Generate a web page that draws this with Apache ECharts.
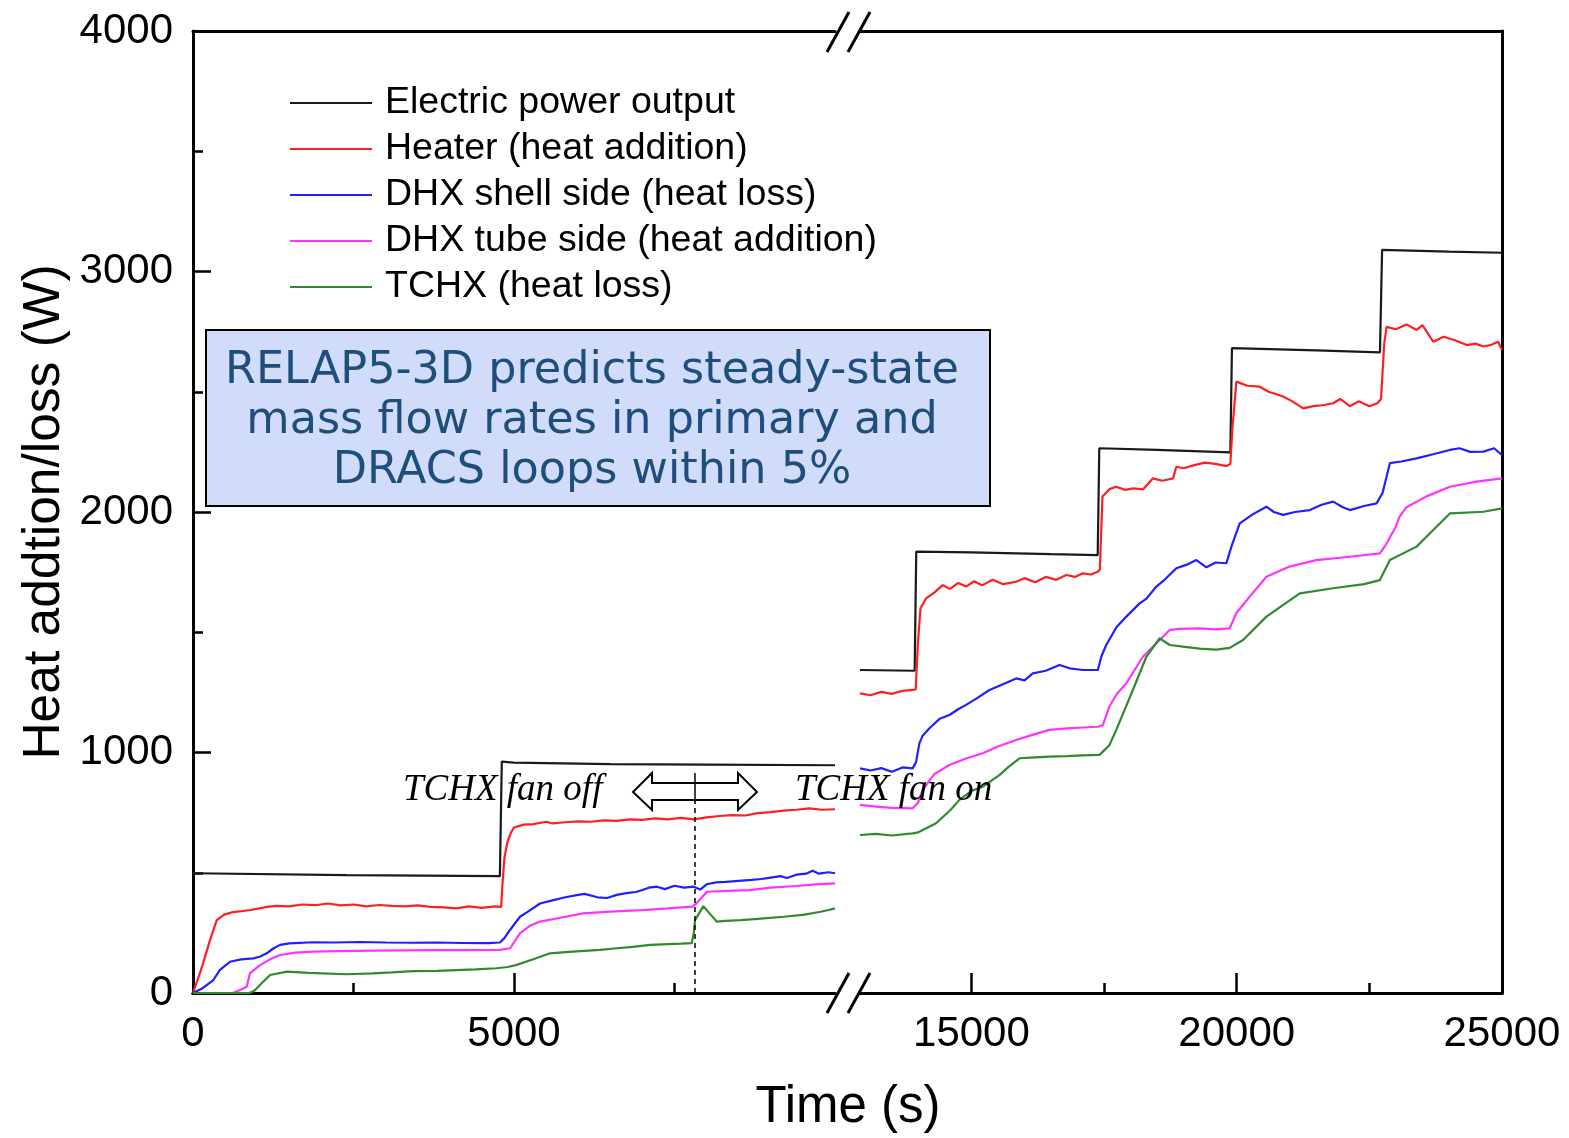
<!DOCTYPE html>
<html>
<head>
<meta charset="utf-8">
<script src="https://cdn.jsdelivr.net/npm/echarts@6/dist/echarts.min.js"></script>
<style>
html,body{margin:0;padding:0;background:#fff}
#main{width:1569px;height:1138px}
</style>
</head>
<body>
<div id="main"></div>
<script>
// time (s), power (W) -- left part of the broken axis (0 - 10000 s)
var electricA = [[0,498],[2400,490],[4780,486],[4810,962],[5000,958],[6500,952],[8000,950],[10000,947]];
var heaterA = [[0,0],[130,100],[265,220],[370,303],[480,325],[600,335],[900,345],[1150,358],[1300,362],[1500,360],[1700,368],[1900,365],[2100,372],[2300,364],[2500,368],[2700,360],[2900,366],[3100,362],[3300,360],[3500,364],[3700,358],[3900,356],[4100,352],[4300,360],[4500,354],[4700,360],[4800,358],[4820,450],[4850,560],[4900,630],[4950,665],[5000,688],[5150,700],[5300,702],[5500,712],[5600,705],[5800,710],[6000,714],[6200,712],[6400,718],[6600,716],[6800,722],[7000,720],[7200,726],[7400,722],[7600,728],[7800,722],[8000,730],[8200,736],[8400,740],[8600,738],[8800,748],[9000,752],[9200,758],[9400,762],[9600,768],[9800,762],[10000,764]];
var shellA = [[0,0],[150,20],[317,54],[420,96],[576,130],[750,140],[940,144],[1050,152],[1148,165],[1250,185],[1355,200],[1500,206],[1875,211],[2200,210],[2600,212],[3000,210],[3400,209],[3800,210],[4200,208],[4600,207],[4780,210],[4850,228],[4938,262],[5093,317],[5200,335],[5405,372],[5600,385],[5800,398],[6000,408],[6100,412],[6300,398],[6450,395],[6600,408],[6750,415],[6900,420],[7000,428],[7100,438],[7230,442],[7350,432],[7500,446],[7650,438],[7800,442],[7900,430],[8000,452],[8150,460],[8300,462],[8500,466],[8700,470],[8850,474],[9000,480],[9150,486],[9250,478],[9400,492],[9550,496],[9650,508],[9750,496],[9900,502],[10000,498]];
var tubeA = [[0,0],[600,0],[640,2],[750,15],[836,26],[888,83],[1044,116],[1200,140],[1355,158],[1600,168],[1874,172],[2300,174],[2800,176],[3300,177],[3800,178],[4300,178],[4780,179],[4940,186],[5093,248],[5250,280],[5405,297],[5700,312],[6075,331],[6500,338],[7000,345],[7400,352],[7780,359],[7850,375],[8006,421],[8300,425],[8676,428],[9000,438],[9400,445],[9700,452],[10000,456]];
var tchxA = [[0,0],[880,0],[960,10],[1050,35],[1200,75],[1460,89],[1800,84],[2394,78],[2800,82],[3100,86],[3432,91],[3800,92],[4100,95],[4400,98],[4730,103],[4900,108],[5030,116],[5300,140],[5561,165],[5800,170],[6100,175],[6340,179],[6600,186],[6850,192],[7118,200],[7400,203],[7600,205],[7768,207],[7800,250],[7820,303],[7949,361],[8050,330],[8157,297],[8300,300],[8532,303],[8800,308],[9200,317],[9500,325],[9776,338],[9900,345],[10000,352]];

// right part of the broken axis (12900 - 25000 s)
var electricB = [[12900,1343],[13930,1340],[13960,1835],[15000,1832],[16500,1825],[17380,1821],[17410,2265],[18500,2258],[19880,2248],[19910,2681],[21500,2672],[22700,2664],[22740,3090],[24000,3083],[25000,3078]];
var heaterB = [[12900,1246],[13100,1238],[13300,1252],[13500,1244],[13700,1256],[13892,1260],[13950,1262],[13990,1450],[14040,1600],[14145,1641],[14300,1665],[14458,1696],[14600,1680],[14750,1705],[14900,1690],[15050,1712],[15200,1695],[15400,1718],[15600,1700],[15843,1710],[16000,1725],[16200,1708],[16400,1730],[16600,1718],[16787,1738],[16950,1730],[17100,1745],[17250,1740],[17380,1752],[17420,1760],[17470,2064],[17600,2095],[17730,2105],[17900,2092],[18050,2098],[18232,2094],[18421,2140],[18600,2130],[18800,2140],[18862,2188],[19000,2182],[19200,2195],[19400,2205],[19600,2200],[19806,2191],[19880,2200],[19920,2350],[19994,2542],[20200,2525],[20434,2521],[20600,2500],[20874,2480],[21050,2460],[21251,2431],[21450,2440],[21650,2445],[21817,2452],[21950,2470],[22132,2440],[22300,2460],[22500,2440],[22650,2452],[22720,2470],[22780,2700],[22825,2770],[23000,2760],[23200,2780],[23390,2757],[23500,2777],[23704,2708],[23900,2729],[24100,2715],[24334,2694],[24500,2700],[24649,2688],[24800,2695],[24926,2708],[25000,2674]];
var shellB = [[12900,934],[13100,925],[13300,935],[13500,920],[13700,938],[13892,934],[13957,960],[14019,1038],[14081,1070],[14208,1101],[14400,1140],[14585,1156],[14750,1180],[14900,1198],[15100,1225],[15340,1260],[15550,1280],[15843,1308],[16000,1300],[16157,1329],[16400,1340],[16660,1364],[16850,1350],[17100,1343],[17383,1343],[17450,1400],[17541,1447],[17730,1520],[17919,1565],[18170,1620],[18300,1640],[18485,1690],[18650,1720],[18862,1766],[19050,1780],[19240,1800],[19428,1770],[19600,1790],[19806,1787],[19900,1856],[20057,1953],[20300,1990],[20560,2022],[20700,2000],[20874,1988],[21100,2000],[21377,2008],[21600,2030],[21817,2043],[22000,2020],[22132,2008],[22400,2025],[22636,2036],[22750,2080],[22887,2203],[23100,2210],[23390,2223],[23700,2240],[24019,2258],[24200,2265],[24400,2250],[24649,2251],[24850,2265],[25000,2237]];
var tubeB = [[12900,782],[13200,775],[13500,770],[13892,768],[13990,790],[14081,844],[14300,910],[14585,948],[14900,975],[15213,997],[15500,1025],[15843,1052],[16100,1070],[16472,1094],[16800,1100],[17100,1104],[17383,1107],[17477,1114],[17600,1191],[17730,1240],[17919,1288],[18232,1398],[18547,1468],[18736,1509],[18900,1514],[19302,1516],[19600,1512],[19868,1516],[19990,1579],[20245,1648],[20560,1731],[20995,1773],[21500,1800],[22132,1814],[22698,1828],[22800,1860],[23000,1940],[23070,1981],[23200,2020],[23566,2064],[24019,2105],[24523,2126],[25000,2140]];
var tchxB = [[12900,657],[13200,662],[13500,655],[13892,664],[14000,668],[14334,706],[14600,760],[14774,803],[15000,840],[15213,858],[15528,906],[15700,940],[15906,976],[16200,980],[16472,983],[16800,985],[17100,988],[17415,990],[17600,1030],[17730,1094],[18043,1260],[18296,1398],[18547,1475],[18736,1447],[18987,1440],[19300,1432],[19617,1428],[19868,1435],[20119,1468],[20560,1565],[21189,1662],[21817,1683],[22400,1700],[22698,1717],[22887,1800],[23390,1856],[23704,1925],[24019,1994],[24649,2001],[25000,2015]];

var seriesNames = ['Electric power output', 'Heater (heat addition)', 'DHX shell side (heat loss)', 'DHX tube side (heat addition)', 'TCHX (heat loss)'];
var seriesColors = ['#1a1a1a', '#ff1f1f', '#2020ff', '#ff33ff', '#2e8b2e'];

var leftTicks = [0, 5000];
var leftMinor = [2500, 7500];
var rightTicks = [15000, 20000, 25000];
var rightMinor = [17500, 22500];
var fanSwitchTime = 7820;

var chart = echarts.init(document.getElementById('main'));

var FONT = 'Liberation Sans';
var lineBlack = {lineStyle: {color: '#000', width: 3}};
var plain = function (v) { return String(v); };

function bottomAxis(grid, min, max, ticks, len, labels) {
  return {
    type: 'value', gridIndex: grid, position: 'bottom', min: min, max: max,
    axisLine: lineBlack,
    splitLine: {show: false},
    axisTick: {inside: true, length: len, customValues: ticks, lineStyle: {color: '#000', width: 2.5}},
    axisLabel: labels ? {customValues: labels, formatter: plain, fontSize: 42, fontFamily: FONT, color: '#000', margin: 20} : {show: false}
  };
}
function topAxis(grid, min, max) {
  return {
    type: 'value', gridIndex: grid, position: 'top', min: min, max: max,
    axisLine: lineBlack, axisTick: {show: false}, axisLabel: {show: false}, splitLine: {show: false}
  };
}

var allData = [[electricA, heaterA, shellA, tubeA, tchxA], [electricB, heaterB, shellB, tubeB, tchxB]];
var series = [];
allData.forEach(function (group, g) {
  group.forEach(function (d, i) {
    var s = {
      name: seriesNames[i], type: 'line', data: d,
      xAxisIndex: g === 0 ? 0 : 3, yAxisIndex: g,
      symbol: 'none', color: seriesColors[i],
      lineStyle: {color: seriesColors[i], width: 2.2},
      z: 3
    };
    if (g === 0 && i === 0) {
      // fan switch marker
      s.markLine = {
        symbol: 'none', silent: true, label: {show: false},
        lineStyle: {color: '#000', width: 1.5, type: [5, 4]},
        data: [[{coord: [fanSwitchTime, 0]}, {coord: [fanSwitchTime, 800]}]]
      };
    }
    series.push(s);
  });
});

// axis break marks "//"
function slash(x, y) {
  return {type: 'line', shape: {x1: x - 11, y1: y + 20, x2: x + 11, y2: y - 20}, style: {stroke: '#000', lineWidth: 3}, z: 10};
}

var option = {
  animation: false,
  backgroundColor: '#fff',
  grid: [
    {left: 193, top: 31, width: 642, height: 962},
    {left: 860, top: 31, width: 642, height: 962}
  ],
  xAxis: [
    bottomAxis(0, 0, 10000, leftTicks, 20, leftTicks),
    bottomAxis(0, 0, 10000, leftMinor, 10, null),
    topAxis(0, 0, 10000),
    bottomAxis(1, 12900, 25000, rightTicks, 20, rightTicks),
    bottomAxis(1, 12900, 25000, rightMinor, 10, null),
    topAxis(1, 12900, 25000)
  ],
  yAxis: [
    {
      type: 'value', gridIndex: 0, min: 0, max: 4000, interval: 1000,
      name: 'Heat addtion/loss (W)', nameLocation: 'middle', nameGap: 122, nameRotate: 90,
      nameTextStyle: {fontSize: 51.5, fontFamily: FONT, color: '#000'},
      axisLine: lineBlack,
      axisTick: {inside: true, length: 18, lineStyle: {color: '#000', width: 2.5}},
      minorTick: {show: true, splitNumber: 2, length: 10, lineStyle: {color: '#000', width: 2.5}},
      axisLabel: {formatter: plain, fontSize: 42, fontFamily: FONT, color: '#000', margin: 20},
      splitLine: {show: false}
    },
    {
      type: 'value', gridIndex: 1, min: 0, max: 4000, position: 'right',
      axisLine: lineBlack, axisTick: {show: false}, axisLabel: {show: false}, splitLine: {show: false}
    }
  ],
  legend: {
    orient: 'vertical', left: 290, top: 84, padding: 0,
    icon: 'rect', itemWidth: 82, itemHeight: 2, itemGap: 8,
    data: seriesNames,
    textStyle: {fontSize: 37.5, fontFamily: FONT, color: '#000', lineHeight: 38, padding: [0, 0, 0, 8]}
  },
  graphic: [
    slash(838, 32), slash(859, 32),
    slash(838, 993), slash(859, 993),
    {
      type: 'rect', shape: {x: 206, y: 330, width: 784, height: 176},
      style: {fill: '#d0dcfa', stroke: '#000', lineWidth: 2}, z: 20
    },
    {
      type: 'text', x: 592, y: 421, z: 21,
      style: {
        text: 'RELAP5-3D predicts steady-state\nmass flow rates in primary and\nDRACS loops within 5%',
        fontSize: 44.5, fontFamily: 'DejaVu Sans', fill: '#1f4e7a', lineHeight: 50,
        align: 'center', verticalAlign: 'middle'
      }
    },
    {
      type: 'text', x: 403, y: 790, z: 21,
      style: {text: 'TCHX fan off', fontSize: 37, fontFamily: 'Liberation Serif', fontStyle: 'italic', fill: '#000', verticalAlign: 'middle'}
    },
    {
      type: 'text', x: 795, y: 790, z: 21,
      style: {text: 'TCHX fan on', fontSize: 37, fontFamily: 'Liberation Serif', fontStyle: 'italic', fill: '#000', verticalAlign: 'middle'}
    },
    {
      type: 'polygon', z: 21,
      shape: {points: [[633, 792], [652, 773], [652, 783], [738, 783], [738, 773], [757, 792], [738, 810], [738, 800], [652, 800], [652, 810]]},
      style: {fill: '#fff', stroke: '#000', lineWidth: 2}
    },
    {
      type: 'line', z: 22, shape: {x1: 695, y1: 773, x2: 695, y2: 802},
      style: {stroke: '#000', lineWidth: 1.5}
    },
    {
      type: 'text', x: 848, y: 1108, z: 21,
      style: {text: 'Time (s)', fontSize: 51, fontFamily: FONT, fill: '#000', align: 'center', verticalAlign: 'middle'}
    }
  ],
  series: series
};

chart.setOption(option);
</script>
</body>
</html>
